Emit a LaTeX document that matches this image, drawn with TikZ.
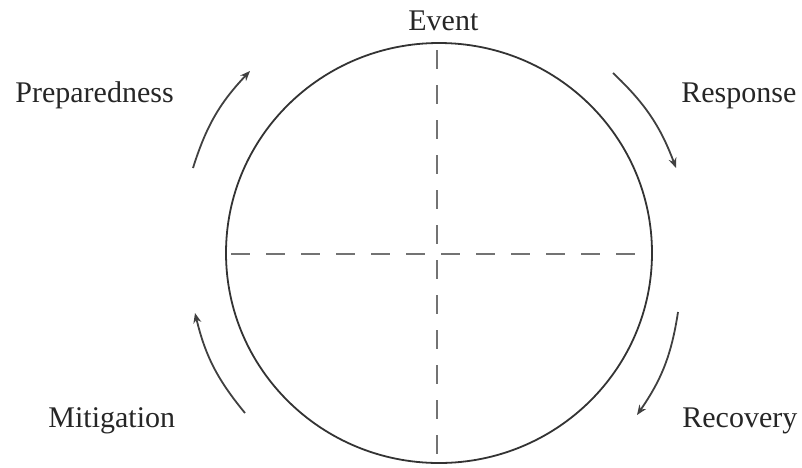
\documentclass[tikz,border=0pt]{standalone}
\usepackage{fontspec}
\setmainfont{Liberation Serif}
\usetikzlibrary{arrows.meta,shapes.geometric}
\begin{document}
\begin{tikzpicture}[x=0.5pt,y=-0.5pt,
  lbl/.style={font=\fontsize{15}{18}\selectfont, text=black!85, inner sep=0pt, anchor=base west},
  cyc/.style={draw=black!75, line width=0.9pt, -{Stealth[length=5pt,width=4pt]}},
  axis/.style={draw=black!55, line width=1.1pt, dash pattern=on 9.5pt off 8pt}]
\useasboundingbox (0,0) rectangle (802,467);
\node[draw=black!80, line width=0.9pt, ellipse, minimum width=213pt, minimum height=210pt, inner sep=0pt] (c) at (439,253) {};
\coordinate (t) at (437,50);
\coordinate (b) at (437,460);
\coordinate (l) at (231,254);
\coordinate (r) at (650,254);
\draw[axis] (t) -- (b);
\draw[axis] (l) -- (r);
\node[lbl] (ev) at (408,30) {Event};
\node[lbl] (pr) at (15,102) {Preparedness};
\node[lbl] (rs) at (681,102) {Response};
\node[lbl] (mi) at (48,427) {Mitigation};
\node[lbl] (rc) at (682,427) {Recovery};
\coordinate (p1) at (193,168); \coordinate (p2) at (250,71);
\coordinate (r1) at (613,73); \coordinate (r2) at (676,168);
\coordinate (m1) at (245,413); \coordinate (m2) at (195,313);
\coordinate (v1) at (678,312); \coordinate (v2) at (637,415);
\draw[cyc] (p1) to[bend left=13] (p2);
\draw[cyc] (r1) to[bend left=13] (r2);
\draw[cyc] (m1) to[bend left=13] (m2);
\draw[cyc] (v1) to[bend left=13] (v2);
\end{tikzpicture}
\end{document}
